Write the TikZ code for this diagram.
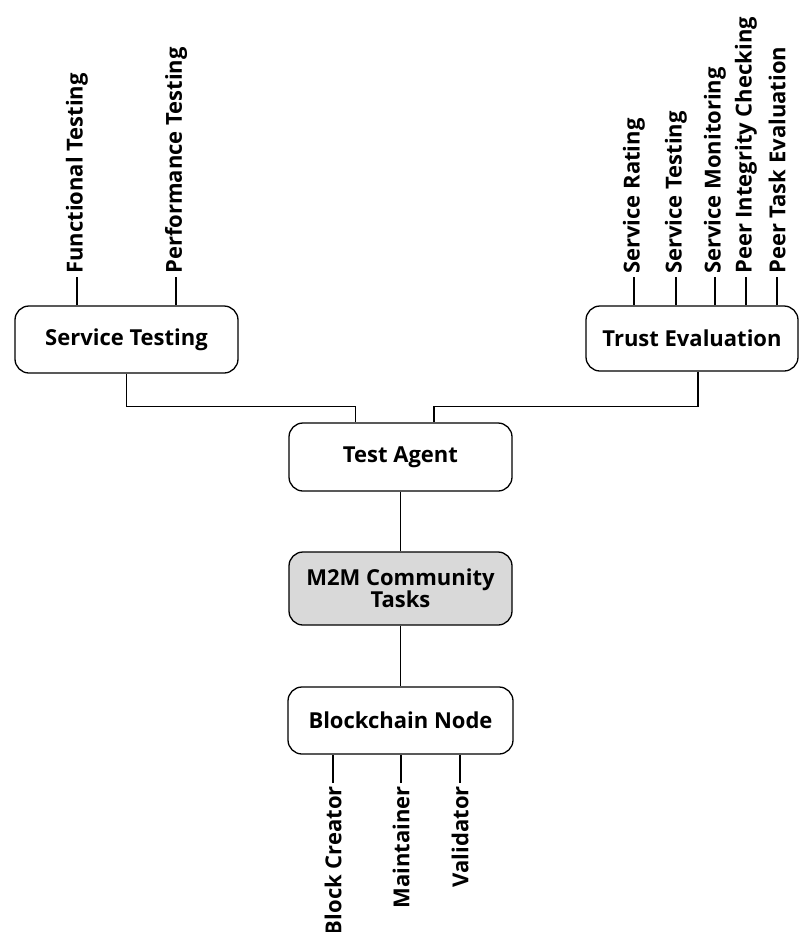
\documentclass[tikz,border=0pt]{standalone}
\usepackage{fontspec}
\setmainfont{Open Sans}
\definecolor{taskfill}{HTML}{D9D9D9}
\begin{document}
\begin{tikzpicture}[x=1pt,y=-1pt,
  lbl/.style={font=\bfseries\fontsize{22}{25}\selectfont},
  box/.style={lbl, draw, line width=1.3pt, rounded corners=14pt,
    minimum width=223pt, minimum height=67pt, align=center, inner sep=0pt},
  leaf/.style={lbl, rotate=90, inner sep=3pt},
  wire/.style={line width=1.3pt}]
\useasboundingbox (0,0) rectangle (800,932);

% main boxes
\node[box] (st) at (126.5,339.5) {Service Testing};
\node[box, minimum width=212pt, minimum height=65pt] (te) at (692,338.5) {Trust Evaluation};
\node[box, minimum height=68pt] (ta) at (400.5,457) {Test Agent};
\node[box, minimum height=73pt, fill=taskfill, align=center] (m2m) at (400.5,588.5) {M2M Community\\[-3pt]Tasks};
\node[box, minimum width=225pt] (bc) at (400.5,720.5) {Blockchain Node};

% tree connectors
\draw[wire] (st.south) -- ++(0,33) -| ([xshift=-45pt]ta.north);
\draw[wire] ([xshift=6pt]te.south) -- ++(0,35) -| ([xshift=33.5pt]ta.north);
\draw[wire] (ta) -- (m2m);
\draw[wire] (m2m) -- (bc);

% branches above Service Testing
\coordinate (sf) at (77,277);
\coordinate (sp) at (176,277);
\node[leaf, anchor=west] (lsf) at (sf) {Functional Testing};
\node[leaf, anchor=west] (lsp) at (sp) {Performance Testing};
\draw[wire] (lsf.west) -- (lsf.west |- st.north);
\draw[wire] (lsp.west) -- (lsp.west |- st.north);

% branches above Trust Evaluation
\coordinate (t1) at (634,277);
\coordinate (t2) at (676,277);
\coordinate (t3) at (715,277);
\coordinate (t4) at (746,277);
\coordinate (t5) at (777,277);
\node[leaf, anchor=west] (lt1) at (t1) {Service Rating};
\node[leaf, anchor=west] (lt2) at (t2) {Service Testing};
\node[leaf, anchor=west] (lt3) at (t3) {Service Monitoring};
\node[leaf, anchor=west] (lt4) at (t4) {Peer Integrity Checking};
\node[leaf, anchor=west] (lt5) at (t5) {Peer Task Evaluation};
\foreach \n in {lt1,lt2,lt3,lt4,lt5}
  \draw[wire] (\n.west) -- (\n.west |- te.north);

% branches below Blockchain Node
\coordinate (b1) at (333,783);
\coordinate (b2) at (401,783);
\coordinate (b3) at (460,783);
\node[leaf, anchor=east] (lb1) at (b1) {Block Creator};
\node[leaf, anchor=east] (lb2) at (b2) {Maintainer};
\node[leaf, anchor=east] (lb3) at (b3) {Validator};
\foreach \n in {lb1,lb2,lb3}
  \draw[wire] (\n.east) -- (\n.east |- bc.south);
\end{tikzpicture}
\end{document}
